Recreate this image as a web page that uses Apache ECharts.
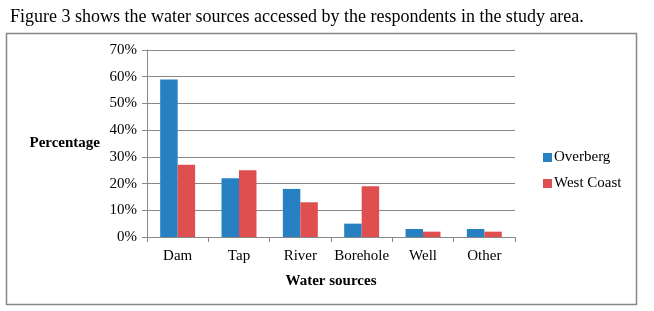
<!DOCTYPE html>
<html><head><meta charset="utf-8">
<script src="https://cdn.jsdelivr.net/npm/echarts@6/dist/echarts.min.js"></script>
<style>html,body{margin:0;padding:0;background:#fff}#c{width:654px;height:311px}</style>
</head><body><div id="c"></div>
<script>
const categories = ['Dam','Tap','River','Borehole','Well','Other'];
const overberg = [59,22,18,5,3,3];
const westCoast = [27,25,13,19,2,2];
const yTicks = [0,10,20,30,40,50,60,70];

const chart = echarts.init(document.getElementById('c'));
const F = 'Liberation Serif, Times New Roman, serif';
chart.setOption({
  animation:false,
  title:{text:'Figure 3 shows the water sources accessed by the respondents in the study area.',left:5,top:3,
    textStyle:{fontFamily:F,fontSize:18,fontWeight:'normal',color:'#000'}},
  graphic:[{type:'rect',shape:{x:6.5,y:33.5,width:630,height:271},style:{fill:'none',stroke:'#888',lineWidth:1.5}}],
  grid:{left:147,right:139,top:50,bottom:74,containLabel:false},
  legend:{orient:'vertical',left:538,top:145,itemWidth:9,itemHeight:9,itemGap:11,icon:'rect',
    textStyle:{fontFamily:F,fontSize:15,color:'#000',padding:[0,0,0,-3]},data:['Overberg','West Coast']},
  xAxis:{type:'category',data:categories,name:'Water sources',nameLocation:'middle',nameGap:37,
    nameTextStyle:{fontFamily:F,fontSize:15,fontWeight:'bold',color:'#000'},
    axisLine:{lineStyle:{color:'#888'}},axisTick:{show:true,length:5,lineStyle:{color:'#888'}},
    axisLabel:{interval:0,fontFamily:F,fontSize:15,color:'#000',margin:12}},
  yAxis:{type:'value',min:0,max:70,interval:10,name:'Percentage',nameLocation:'middle',nameRotate:0,nameGap:47,
    nameTextStyle:{fontFamily:F,fontSize:15,fontWeight:'bold',color:'#000',align:'right'},
    axisLine:{show:true,lineStyle:{color:'#888'}},axisTick:{show:true,length:5,lineStyle:{color:'#888'}},
    splitLine:{lineStyle:{color:'#888'}},
    axisLabel:{fontFamily:F,fontSize:15,color:'#000',margin:10,formatter:v=>yTicks.includes(v)?v+'%':''}},
  series:[
    {name:'Overberg',type:'bar',data:overberg,barGap:'0%',barCategoryGap:'43%',itemStyle:{color:'#2680c2'}},
    {name:'West Coast',type:'bar',data:westCoast,itemStyle:{color:'#df4f4f'}}
  ]
});
</script></body></html>
